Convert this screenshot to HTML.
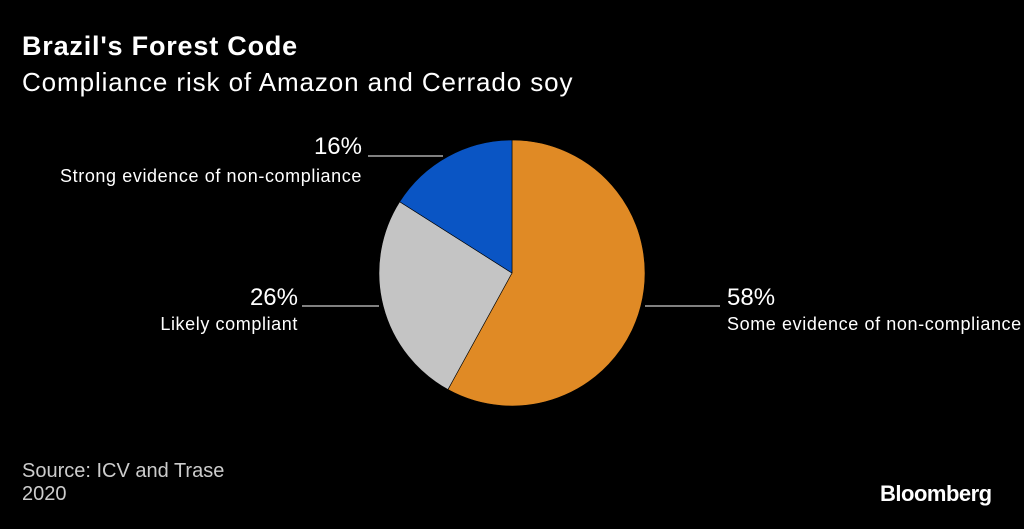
<!DOCTYPE html>
<html><head><meta charset="utf-8"><style>
html,body{margin:0;padding:0;background:#000;}
body{width:1024px;height:529px;overflow:hidden;font-family:"Liberation Sans",sans-serif;color:#fff;position:relative;}
.t{position:absolute;white-space:nowrap;}
</style></head><body>
<div class="t" style="left:22px;top:31px;font-size:27px;font-weight:bold;letter-spacing:0.8px;">Brazil's Forest Code</div>
<div class="t" style="left:22px;top:67px;font-size:26px;letter-spacing:0.9px;">Compliance risk of Amazon and Cerrado soy</div>
<svg width="1024" height="529" style="position:absolute;left:0;top:0">
<g id="pie"></g>
</svg>
<div class="t" style="left:22px;top:460px;font-size:20px;color:#ccc;">Source: ICV and Trase<br>2020</div>
<div class="t" style="left:880px;top:481px;font-size:22px;font-weight:bold;letter-spacing:-0.5px;">Bloomberg</div>
<script>
const categories=["Some evidence of non-compliance","Likely compliant","Strong evidence of non-compliance"];
const values=[58,26,16];
const colors=["#e08a25","#c4c4c4","#0a55c4"];
const names=["slice-some-evidence","slice-likely-compliant","slice-strong-evidence"];
const cx=512,cy=273,r=133;
const g=document.getElementById('pie');
const ns="http://www.w3.org/2000/svg";
const total=values.reduce((a,b)=>a+b,0);
let a0=0;
function pt(a){return [cx+r*Math.sin(a),cy-r*Math.cos(a)];}
values.forEach((v,i)=>{
  const a1=a0+v/total*2*Math.PI;
  const p0=pt(a0),p1=pt(a1);
  const p=document.createElementNS(ns,'path');
  p.setAttribute('d',`M${cx},${cy}L${p0[0]},${p0[1]}A${r},${r} 0 ${a1-a0>Math.PI?1:0} 1 ${p1[0]},${p1[1]}Z`);
  p.setAttribute('fill',colors[i]);
  p.setAttribute('stroke','#000');
  p.setAttribute('stroke-width','0.6');
  
  
  g.appendChild(p);
  a0=a1;
});
const labels=[
 {x:727,y:296,line:[645,720,306],anchor:"start",ly:323},
 {x:298,y:296,line:[302,379,306],anchor:"end",ly:323},
 {x:362,y:145,line:[368,443,156],anchor:"end",ly:175}
];
labels.forEach((L,i)=>{
  const ln=document.createElementNS(ns,'line');
  ln.setAttribute('x1',L.line[0]);ln.setAttribute('x2',L.line[1]);
  ln.setAttribute('y1',L.line[2]);ln.setAttribute('y2',L.line[2]);
  ln.setAttribute('stroke','#fff');ln.setAttribute('stroke-width','1');
  
  
  g.appendChild(ln);
  const t=document.createElementNS(ns,'text');
  t.setAttribute('x',L.x);t.setAttribute('y',L.y+9);
  t.setAttribute('text-anchor',L.anchor);t.setAttribute('fill','#fff');
  t.setAttribute('font-size','24');t.setAttribute('font-family','Liberation Sans, sans-serif');
  t.textContent=values[i]+'%';
  
  
  g.appendChild(t);
  const c=document.createElementNS(ns,'text');
  c.setAttribute('x',L.x);c.setAttribute('y',L.ly+7);
  c.setAttribute('text-anchor',L.anchor);c.setAttribute('fill','#fff');
  c.setAttribute('font-size','18');c.setAttribute('letter-spacing','0.6');
  c.setAttribute('font-family','Liberation Sans, sans-serif');
  c.textContent=categories[i];
  
  
  g.appendChild(c);
});
</script>
</body></html>
